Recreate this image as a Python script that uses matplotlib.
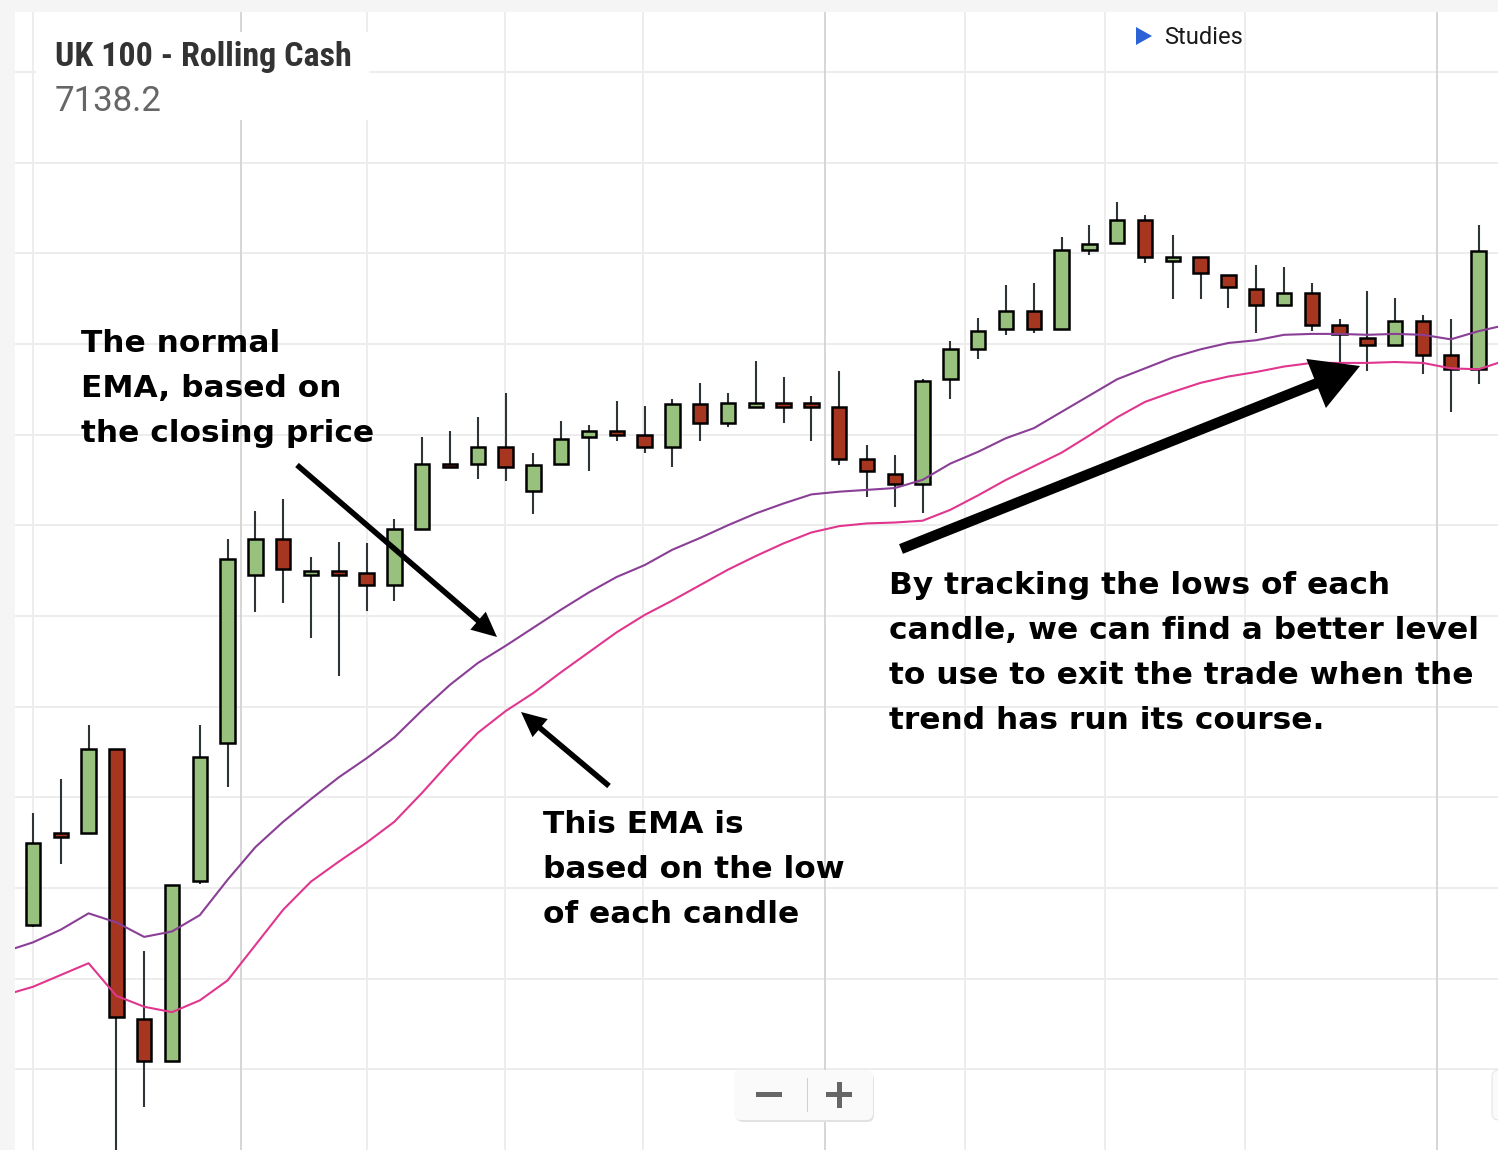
import numpy as np
import matplotlib
matplotlib.use("Agg")
import matplotlib.pyplot as plt
from matplotlib.patches import Rectangle, FancyBboxPatch, Polygon
from matplotlib.transforms import IdentityTransform

W, H = 1498, 1150

# daily OHLC, UK 100 rolling cash (left to right)
opens = [7065.9, 7076.1, 7076.1, 7085.3, 7055.5, 7050.9, 7070.8, 7086.0, 7104.5, 7108.5,
         7104.5, 7104.9, 7104.7, 7103.4, 7109.6, 7116.8, 7116.8, 7118.6, 7113.8, 7116.8,
         7119.7, 7120.4, 7119.9, 7118.6, 7123.4, 7121.3, 7123.0, 7123.5, 7123.5, 7123.0,
         7117.3, 7115.7, 7114.6, 7126.1, 7129.4, 7131.6, 7133.6, 7131.6, 7140.4, 7141.1,
         7143.7, 7139.1, 7139.6, 7137.6, 7136.0, 7134.3, 7135.6, 7132.1, 7130.7, 7129.9,
         7132.5, 7128.8, 7127.2]
highs = [7078.3, 7082.0, 7088.0, 7085.3, 7063.0, 7070.3, 7088.0, 7108.5, 7111.6, 7112.9,
         7106.5, 7108.2, 7108.0, 7110.7, 7119.7, 7120.4, 7121.9, 7124.6, 7118.0, 7121.5,
         7121.0, 7123.7, 7123.2, 7123.9, 7125.7, 7124.6, 7128.1, 7126.3, 7124.3, 7127.0,
         7118.8, 7117.7, 7126.1, 7130.3, 7132.9, 7136.5, 7136.7, 7141.8, 7143.1, 7145.7,
         7144.2, 7142.0, 7139.6, 7137.6, 7138.7, 7138.5, 7136.7, 7132.7, 7135.8, 7135.1,
         7133.2, 7132.7, 7143.1]
lows = [7065.7, 7072.6, 7076.1, 7040.0, 7045.8, 7050.9, 7070.4, 7081.1, 7100.4, 7101.4,
        7097.6, 7093.4, 7100.5, 7101.6, 7109.6, 7116.4, 7115.1, 7114.9, 7111.2, 7116.8,
        7116.0, 7119.3, 7118.0, 7116.4, 7119.3, 7120.8, 7123.0, 7121.3, 7119.3, 7116.6,
        7113.1, 7112.0, 7111.3, 7123.9, 7128.3, 7131.0, 7131.2, 7131.6, 7139.8, 7141.1,
        7138.9, 7134.9, 7134.9, 7134.0, 7131.2, 7134.3, 7131.4, 7128.0, 7127.0, 7129.9,
        7126.7, 7122.5, 7125.6]
closes = [7075.0, 7075.6, 7085.3, 7055.8, 7050.9, 7070.3, 7084.4, 7106.3, 7108.5, 7105.2,
          7104.9, 7104.5, 7103.4, 7109.6, 7116.8, 7116.4, 7118.6, 7116.4, 7116.6, 7119.5,
          7120.4, 7119.9, 7118.6, 7123.4, 7121.3, 7123.5, 7123.5, 7123.0, 7123.0, 7117.3,
          7116.0, 7114.6, 7125.9, 7129.4, 7131.4, 7133.6, 7131.6, 7140.4, 7141.0, 7143.7,
          7139.6, 7139.6, 7137.8, 7136.3, 7134.3, 7135.6, 7132.1, 7131.1, 7129.9, 7132.5,
          7128.8, 7127.2, 7140.2]

# EMAs start one session before the first visible candle and run one past the last
ema_close = [7063.0, 7064.0, 7065.4, 7067.2, 7066.2, 7064.6, 7065.2, 7067.0, 7070.9, 7074.5,
             7077.3, 7079.8, 7082.2, 7084.3, 7086.6, 7089.6, 7092.4, 7094.8, 7096.7, 7098.7,
             7100.7, 7102.6, 7104.3, 7105.6, 7107.3, 7108.6, 7110.0, 7111.3, 7112.4, 7113.4,
             7113.7, 7113.9, 7114.1, 7115.0, 7116.8, 7118.1, 7119.6, 7120.7, 7122.5, 7124.3,
             7126.1, 7127.3, 7128.5, 7129.4, 7130.1, 7130.4, 7131.0, 7131.1, 7131.1, 7131.0,
             7131.1, 7131.0, 7130.5, 7131.4, 7132.1]
ema_low = [7058.2, 7059.1, 7060.4, 7061.7, 7058.1, 7056.9, 7056.3, 7057.6, 7059.8, 7063.7,
           7067.6, 7070.7, 7072.9, 7075.0, 7077.3, 7080.5, 7083.9, 7087.1, 7089.5, 7091.5,
           7093.8, 7096.0, 7098.2, 7100.1, 7101.7, 7103.4, 7105.1, 7106.6, 7108.0, 7109.2,
           7109.9, 7110.2, 7110.3, 7110.5, 7111.7, 7113.3, 7115.0, 7116.5, 7118.0, 7119.9,
           7121.9, 7123.6, 7124.7, 7125.7, 7126.4, 7126.9, 7127.5, 7127.9, 7127.9, 7127.9,
           7128.0, 7127.9, 7127.3, 7127.2, 7128.2]

# time grid lines (in session index), darker ones mark month boundaries
vgrid = [0, 7.48, 12.0, 16.98, 21.94, 28.49, 33.53, 38.56, 43.6, 50.5]
vgrid_major = [False, True, False, False, False, True, False, False, False, True]


def fpos(x, y):
    """screenshot pixel -> figure fraction"""
    return x / W, 1 - y / H


fig = plt.figure(figsize=(W / 100, H / 100), dpi=100, facecolor="#f5f5f5")
ax = fig.add_axes([15 / W, 0, (W - 15) / W, (H - 12) / H])
ax.set_facecolor("white")
ax.set_xlim(-0.647, 52.70)
ax.set_ylim(7041.1, 7166.6)
for s in ax.spines.values():
    s.set_visible(False)
ax.set_xticks([])
ax.set_yticks(np.arange(7050, 7161, 10))
ax.tick_params(left=False, labelleft=False)
ax.set_axisbelow(True)
ax.grid(axis="y", color="#ececec", lw=1.3)
for v, major in zip(vgrid, vgrid_major):
    ax.axvline(v, color="#d3d3d3" if major else "#ececec", lw=1.3, zorder=0.6)

# candles
o, hi, lo, c = map(np.asarray, (opens, highs, lows, closes))
idx = np.arange(len(o))
body_col = np.where(c >= o, "#97c17d", "#a63620")
ax.vlines(idx, lo, hi, color="#2e3437", lw=1.5, zorder=2)
ax.bar(idx, np.abs(c - o), bottom=np.minimum(o, c), width=0.52, color=body_col,
       edgecolor="black", lw=1.8, zorder=3)

ex = np.arange(-1, len(o) + 1)
ax.plot(ex, ema_close, color="#8a3e96", lw=1.5, zorder=4)
ax.plot(ex, ema_low, color="#e0368e", lw=1.5, zorder=4)

# header box
x0, y0 = fpos(36, 120)
fig.add_artist(Rectangle((x0, y0), 333 / W, 88 / H, transform=fig.transFigure,
                         facecolor="white", edgecolor="none", zorder=5))
fig.text(*fpos(55, 66), "UK 100 - Rolling Cash", fontsize=24.5, fontweight="bold",
         family=["Roboto Condensed", "Liberation Sans Narrow", "Roboto"],
         color="#333333", va="baseline", zorder=6)
fig.text(*fpos(55, 111), "7138.2", fontsize=25, family="Roboto", color="#666666",
         va="baseline", zorder=6)

# studies toggle
px = IdentityTransform()
fig.add_artist(Polygon([(1136, H - 27), (1136, H - 45), (1152, H - 36)], closed=True,
                       transform=px, facecolor="#2b63d6", edgecolor="none", zorder=6))
fig.text(*fpos(1164, 44), "Studies", fontsize=17, family="Roboto", color="#1a1a1a",
         va="baseline", zorder=6)

# annotations
note = dict(fontsize=22.5, fontweight="bold", family="DejaVu Sans",
            color="black", va="baseline", zorder=7)
for i, line in enumerate(["The normal", "EMA, based on", "the closing price"]):
    fig.text(*fpos(81, 352 + 45 * i), line, **note)
for i, line in enumerate(["This EMA is", "based on the low", "of each candle"]):
    fig.text(*fpos(543, 833 + 45 * i), line, **note)
for i, line in enumerate(["By tracking the lows of each", "candle, we can find a better level",
                          "to use to exit the trade when the", "trend has run its course."]):
    fig.text(*fpos(889, 594 + 45 * i), line, **note)

arrows = [((297, 465), (497, 637), 4.0, 17, 18),
          ((609, 786), (521, 712), 4.0, 17, 18),
          ((901, 549), (1360, 366), 7.5, 38, 34)]
for (tx, ty), (hx, hy), w, hw, hl in arrows:
    ax.annotate("", xy=(hx, H - hy), xycoords="figure pixels",
                xytext=(tx, H - ty), textcoords="figure pixels",
                arrowprops=dict(width=w, headwidth=hw, headlength=hl, shrink=0,
                                facecolor="black", edgecolor="black", lw=0),
                zorder=7)

# zoom buttons
fig.add_artist(FancyBboxPatch((736, H - 1122), 138, 49, boxstyle="round,pad=0,rounding_size=7",
                              transform=px, facecolor="#e2e2e2", edgecolor="none", zorder=5))
fig.add_artist(FancyBboxPatch((734, H - 1120), 139, 50, boxstyle="round,pad=0,rounding_size=7",
                              transform=px, facecolor="#fafafa", edgecolor="none", zorder=5))
fig.add_artist(FancyBboxPatch((1492, H - 1120), 40, 50, boxstyle="round,pad=0,rounding_size=7",
                              transform=px, facecolor="#fafafa", edgecolor="#e6e6e6", lw=0.8,
                              zorder=5))
for rx, ry, rw, rh in [(756, 1097, 26, 5), (826, 1097, 26, 5), (836.5, 1108, 5, 26)]:
    fig.add_artist(Rectangle((rx, H - ry), rw, rh, transform=px,
                             facecolor="#666666", edgecolor="none", zorder=6))
fig.add_artist(Rectangle((806.5, H - 1112), 1.2, 34, transform=px,
                         facecolor="#d0d0d0", edgecolor="none", zorder=6))

fig.savefig("out.png", dpi=100, facecolor=fig.get_facecolor())
